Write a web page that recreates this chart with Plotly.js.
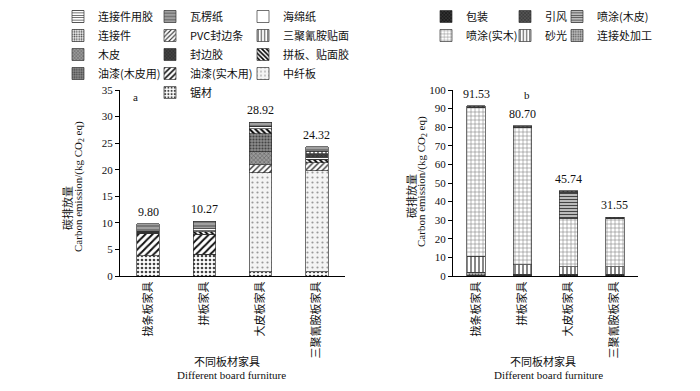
<!DOCTYPE html>
<html><head><meta charset="utf-8">
<script src="https://cdn.plot.ly/plotly-3.0.1.min.js"></script>
<style>html,body{margin:0;padding:0;background:#fff}#chart{width:700px;height:391px}</style>
</head><body><div id="chart"></div>
<script>
// ---------- data ----------
const categories = ['拢条板家具', '拼板家具', '大皮板家具', '三聚氰胺板家具'];

// (a) materials, kg CO2 eq
const sawnTimber   = [3.85, 4.10, 0.80, 0.80];   // 锯材
const mdf          = [0, 0, 18.65, 19.03];       // 中纤板
const paintSolid   = [4.15, 3.75, 0, 0];         // 油漆(实木用)
const pvcEdge      = [0, 0, 1.45, 1.51];         // PVC封边条
const veneer       = [0, 0, 2.50, 0];            // 木皮
const paintVeneer  = [0, 0, 3.34, 0];            // 油漆(木皮用)
const panelGlue    = [0, 0.50, 1.00, 0.66];      // 拼板、贴面胶
const connector    = [0.15, 0.20, 0, 0];         // 连接件
const connGlue     = [0.05, 0, 0, 0];            // 连接件用胶
const spongePaper  = [0.25, 0.30, 0.46, 0.35];   // 海绵纸
const edgeGlue     = [0, 0, 0, 0.68];            // 封边胶
const melamine     = [0, 0, 0, 0.45];            // 三聚氰胺贴面
const carton       = [1.35, 1.42, 0.72, 0.84];   // 瓦楞纸
const totalsA      = [9.80, 10.27, 28.92, 24.32];

// (b) processing, kg CO2 eq
const packing      = [0.30, 0.30, 0.80, 0.80];   // 包装
const jointProc    = [1.70, 0.70, 0.20, 0.20];   // 连接处加工
const sanding      = [8.50, 5.00, 4.00, 4.00];   // 砂光
const spraySolid   = [80.30, 74.00, 26.00, 26.00]; // 喷涂(实木)
const sprayVeneer  = [0, 0, 14.00, 0];           // 喷涂(木皮)
const fan          = [0.73, 0.70, 0.74, 0.55];   // 引风
const totalsB      = [91.53, 80.70, 45.74, 31.55];

// ---------- build ----------
const W = 700, H = 391;
const px = v => v / W, py = v => 1 - v / H;
const CJK = 'Noto Sans CJK SC', SERIF = 'Liberation Serif, Times New Roman, serif';

function bar(name, vals, xa, ya, leg, rank, pat) {
  return {
    type: 'bar', name: name, x: categories, y: vals, xaxis: xa, yaxis: ya,
    legend: leg, legendrank: rank,
    marker: {
      color: pat.bg,
      line: {color: '#333', width: 0.7},
      pattern: {shape: pat.shape || '', bgcolor: pat.bg, fgcolor: pat.fg || '#000',
                size: pat.size || 4, solidity: pat.sol || 0.3, fillmode: 'replace'}
    },
    hoverinfo: 'skip'
  };
}

const traces = [
  bar('锯材', sawnTimber, 'x', 'y', 'legend2', 5, {shape: '.', bg: '#ffffff', fg: '#444', size: 4, sol: 0.35}),
  bar('中纤板', mdf, 'x', 'y', 'legend3', 4, {shape: '.', bg: '#f4f4f4', fg: '#999', size: 5, sol: 0.15}),
  bar('油漆(实木用)', paintSolid, 'x', 'y', 'legend2', 4, {shape: '/', bg: '#ffffff', fg: '#111', size: 5, sol: 0.4}),
  bar('PVC封边条', pvcEdge, 'x', 'y', 'legend2', 2, {shape: '/', bg: '#ffffff', fg: '#333', size: 4, sol: 0.35}),
  bar('木皮', veneer, 'x', 'y', 'legend', 3, {shape: 'x', bg: '#999999', fg: '#555', size: 3, sol: 0.3}),
  bar('油漆(木皮用)', paintVeneer, 'x', 'y', 'legend', 4, {shape: '.', bg: '#8c8c8c', fg: '#444', size: 3, sol: 0.4}),
  bar('拼板、贴面胶', panelGlue, 'x', 'y', 'legend3', 3, {shape: '\\', bg: '#ffffff', fg: '#000', size: 4, sol: 0.5}),
  bar('连接件', connector, 'x', 'y', 'legend', 2, {shape: '.', bg: '#eeeeee', fg: '#333', size: 3, sol: 0.35}),
  bar('连接件用胶', connGlue, 'x', 'y', 'legend', 1, {shape: '-', bg: '#ffffff', fg: '#333', size: 3, sol: 0.3}),
  bar('海绵纸', spongePaper, 'x', 'y', 'legend3', 1, {shape: '', bg: '#ffffff'}),
  bar('封边胶', edgeGlue, 'x', 'y', 'legend2', 3, {shape: 'x', bg: '#444444', fg: '#222', size: 3, sol: 0.3}),
  bar('三聚氰胺贴面', melamine, 'x', 'y', 'legend3', 2, {shape: '|', bg: '#ffffff', fg: '#333', size: 4, sol: 0.3}),
  bar('瓦楞纸', carton, 'x', 'y', 'legend2', 1, {shape: '-', bg: '#777777', fg: '#bbbbbb', size: 4, sol: 0.3}),

  bar('包装', packing, 'x2', 'y2', 'legend4', 1, {shape: 'x', bg: '#333333', fg: '#000', size: 3, sol: 0.3}),
  bar('连接处加工', jointProc, 'x2', 'y2', 'legend6', 2, {shape: '.', bg: '#bbbbbb', fg: '#555', size: 3, sol: 0.35}),
  bar('砂光', sanding, 'x2', 'y2', 'legend5', 2, {shape: '|', bg: '#ffffff', fg: '#111', size: 4, sol: 0.25}),
  bar('喷涂(实木)', spraySolid, 'x2', 'y2', 'legend4', 2, {shape: '+', bg: '#ffffff', fg: '#777', size: 4, sol: 0.25}),
  bar('喷涂(木皮)', sprayVeneer, 'x2', 'y2', 'legend6', 1, {shape: '-', bg: '#bbbbbb', fg: '#444', size: 3, sol: 0.35}),
  bar('引风', fan, 'x2', 'y2', 'legend5', 1, {shape: 'x', bg: '#555555', fg: '#222', size: 3, sol: 0.3})
];

const tickFont = {family: SERIF, size: 11, color: '#111'};
const catFont = {family: CJK, size: 11, color: '#111'};
const yDom = [1 - 276 / H, 1 - 90 / H];

function yAx(range, dtick, anchor) {
  return {domain: yDom, range: range, dtick: dtick, anchor: anchor, showgrid: false, zeroline: false,
          showline: true, linecolor: '#000', linewidth: 1, ticks: 'outside', ticklen: 4,
          tickcolor: '#000', tickfont: tickFont, fixedrange: true};
}
function xAx(dom, anchor) {
  return {domain: dom, anchor: anchor, type: 'category', showgrid: false, zeroline: false,
          showline: true, linecolor: '#000', linewidth: 1, ticks: '', tickangle: -90,
          tickfont: catFont, fixedrange: true};
}

function legendAt(x, y) {
  return {x: px(x), y: py(y), xanchor: 'left', yanchor: 'top', orientation: 'v',
          bgcolor: 'rgba(0,0,0,0)', borderwidth: 0, traceorder: 'normal',
          font: {family: CJK, size: 11, color: '#111'}};
}

const annotations = [];
totalsA.forEach((t, i) => annotations.push({x: categories[i], y: t, xref: 'x', yref: 'y',
  text: t.toFixed(2), showarrow: false, yanchor: 'bottom', yshift: 3, font: {family: SERIF, size: 12, color: '#111'}}));
totalsB.forEach((t, i) => annotations.push({x: categories[i], y: t, xref: 'x2', yref: 'y2',
  text: t.toFixed(2), showarrow: false, yanchor: 'bottom', yshift: 3, font: {family: SERIF, size: 12, color: '#111'}}));

function txt(text, x, y, font, angle) {
  annotations.push({text: text, x: px(x), y: py(y), xref: 'paper', yref: 'paper', showarrow: false,
    textangle: angle || 0, font: font, xanchor: 'center', yanchor: 'middle'});
}
const cjkT = {family: CJK, size: 11, color: '#111'};
const serT = {family: SERIF, size: 11, color: '#111'};
txt('a', 135, 97, serT);
txt('b', 527, 95, serT);
txt('碳排放量', 67, 208, cjkT, -90);
txt('Carbon emission/(kg CO<sub>2</sub> eq)', 79, 187, serT, -90);
txt('碳排放量', 411, 196, cjkT, -90);
txt('Carbon emission/(kg CO<sub>2</sub> eq)', 422, 182, serT, -90);
txt('不同板材家具', 227, 361, cjkT);
txt('Different board furniture', 231, 375, serT);
txt('不同板材家具', 543, 361, cjkT);
txt('Different board furniture', 548, 375, serT);

const layout = {
  width: W, height: H, margin: {l: 0, r: 0, t: 0, b: 0, pad: 0},
  paper_bgcolor: '#fff', plot_bgcolor: '#fff',
  barmode: 'stack', bargap: 0.6, showlegend: true,
  xaxis: xAx([120 / W, 345 / W], 'y'),
  yaxis: yAx([0, 35], 5, 'x'),
  xaxis2: xAx([453 / W, 638 / W], 'y2'),
  yaxis2: yAx([0, 100], 10, 'x2'),
  legend: legendAt(58, 2),
  legend2: legendAt(150, 2),
  legend3: legendAt(243, 2),
  legend4: legendAt(426, 2),
  legend5: legendAt(505, 2),
  legend6: legendAt(557, 2),
  annotations: annotations,
  hovermode: false
};

Plotly.newPlot('chart', traces, layout, {staticPlot: true, displayModeBar: false});
</script>
</body></html>
